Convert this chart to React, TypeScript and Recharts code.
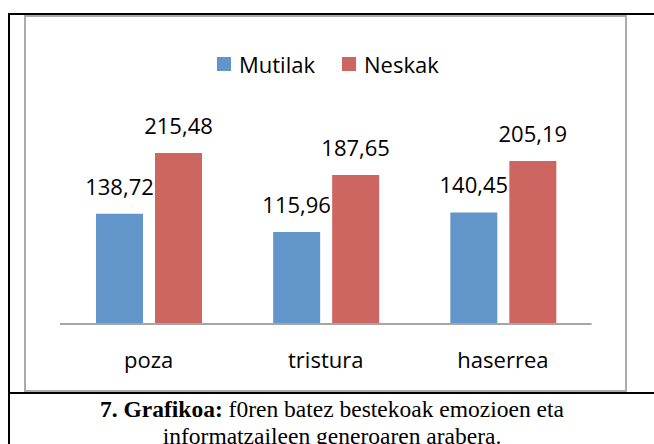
import { BarChart, Bar, XAxis, YAxis, Legend, LabelList } from 'recharts';

const categories = ['poza', 'tristura', 'haserrea'];
const mutilak = [138.72, 115.96, 140.45];
const neskak = [215.48, 187.65, 205.19];

const BLUE = '#6296CA';
const RED = '#CD6661';

const data = categories.map((name, i) => ({ name, Mutilak: mutilak[i], Neskak: neskak[i] }));

const fmt = (v: any) => Number(v).toFixed(2).replace('.', ',');

const LegendBox = () => (
  <div style={{ display: 'flex', alignItems: 'center', fontFamily: 'Open Sans', fontSize: 22, color: '#000' }}>
    <span style={{ width: 14, height: 14, background: BLUE, display: 'inline-block', marginRight: 8 }} />
    <span style={{ marginRight: 27 }}>Mutilak</span>
    <span style={{ width: 14, height: 14, background: RED, display: 'inline-block', marginRight: 8 }} />
    <span>Neskak</span>
  </div>
);

export default function App() {
  return (
    <div style={{ position: 'fixed', left: 0, top: 0, width: 654, height: 444, background: '#fff', overflow: 'hidden' }}>
      {/* table borders */}
      <div style={{ position: 'absolute', left: 8, top: 13, width: 2, height: 431, background: '#000' }} />
      <div style={{ position: 'absolute', left: 8, top: 13, width: 646, height: 2, background: '#000' }} />
      <div style={{ position: 'absolute', left: 8, top: 392, width: 646, height: 2, background: '#000' }} />
      {/* chart frame */}
      <div style={{ position: 'absolute', left: 24, top: 15, width: 599, height: 373, border: '2px solid #ababab' }} />

      <div style={{ position: 'absolute', left: 0, top: 0 }}>
        <BarChart
          width={654}
          height={444}
          data={data}
          margin={{ top: 125.5, right: 62.5, bottom: 60, left: 60 }}
          barSize={47}
          barGap={12}
        >
          <XAxis
            dataKey="name"
            height={60}
            tickLine={false}
            tickSize={0}
            tickMargin={28}
            axisLine={{ stroke: '#a6a6a6', strokeWidth: 2 }}
            tick={{ fill: '#000', fontSize: 22, fontFamily: 'Open Sans' }}
          />
          <YAxis hide domain={[0, 250]} />
          <Legend
            layout="horizontal"
            verticalAlign="middle"
            align="center"
            content={<LegendBox />}
            wrapperStyle={{ position: 'absolute', left: 217, top: 49, width: 260, height: 30 }}
          />
          <Bar dataKey="Mutilak" fill={BLUE} isAnimationActive={false}>
            <LabelList dataKey="Mutilak" position="top" offset={19} formatter={fmt}
              style={{ fill: '#000', fontSize: 22, fontFamily: 'Open Sans' }} />
          </Bar>
          <Bar dataKey="Neskak" fill={RED} isAnimationActive={false}>
            <LabelList dataKey="Neskak" position="top" offset={19} formatter={fmt}
              style={{ fill: '#000', fontSize: 22, fontFamily: 'Open Sans' }} />
          </Bar>
        </BarChart>
      </div>

      <div style={{ position: 'absolute', left: 10, top: 396, width: 644, textAlign: 'center', fontFamily: 'Liberation Serif', fontSize: 23.5, lineHeight: '27px', color: '#000', whiteSpace: 'nowrap' }}>
        <b>7. Grafikoa:</b> f0ren batez bestekoak emozioen eta<br />informatzaileen generoaren arabera.
      </div>
    </div>
  );
}
